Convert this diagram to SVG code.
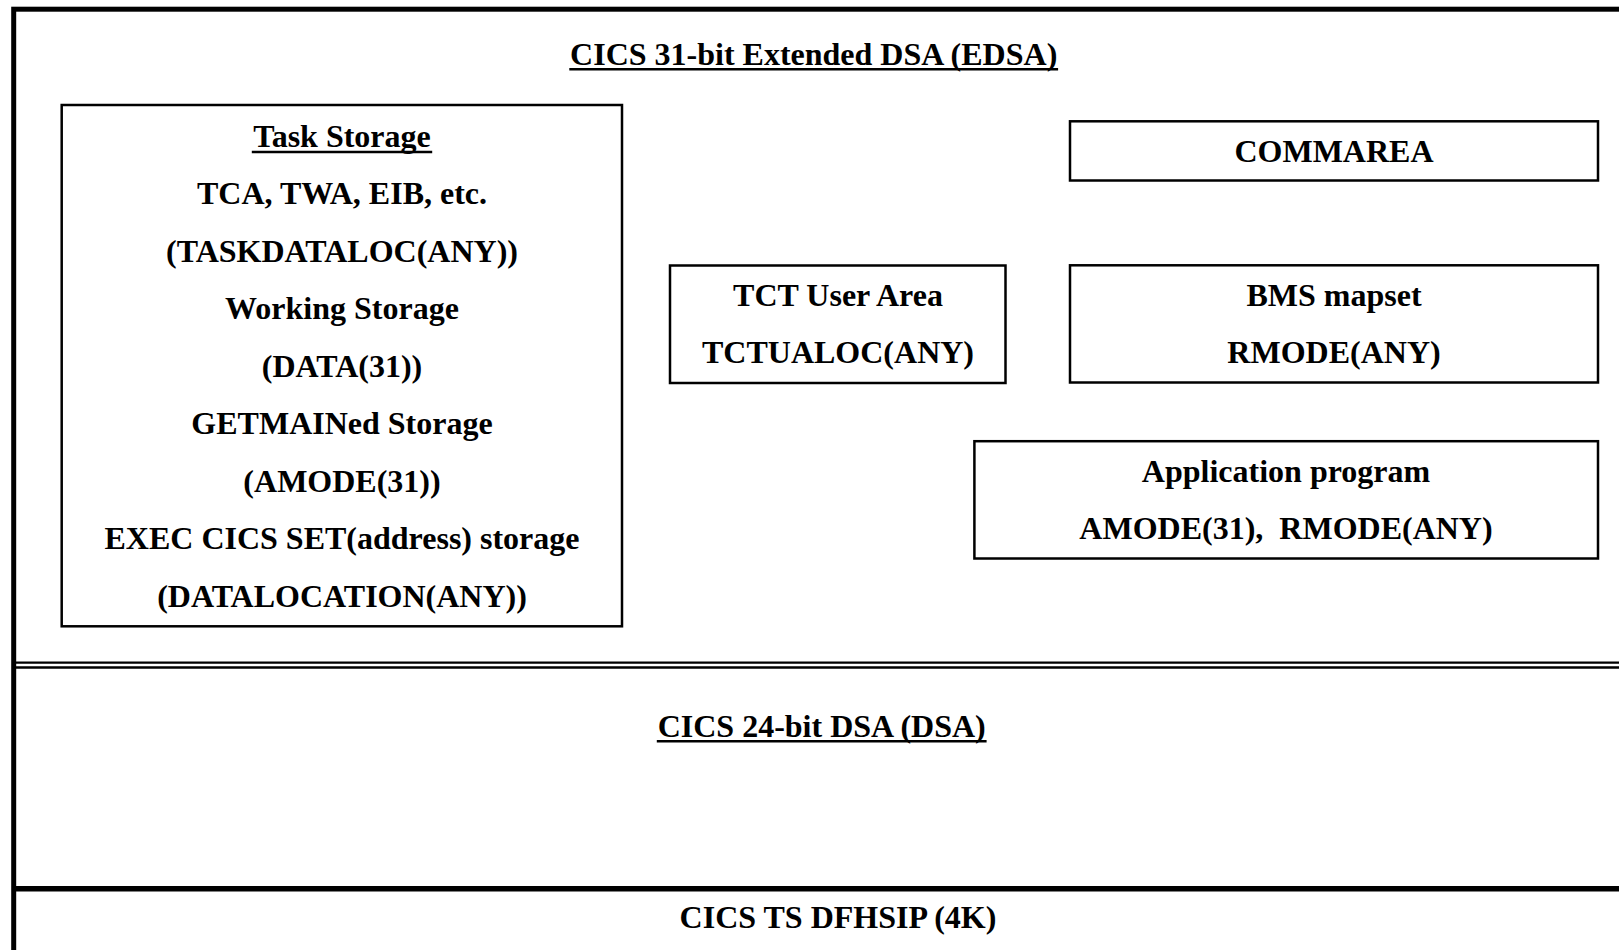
<svg xmlns="http://www.w3.org/2000/svg" width="1619" height="950" viewBox="0 0 1619 950">
<style>
text{font-family:"Liberation Serif","Times New Roman",serif;font-weight:bold;font-size:32px;fill:#000;text-anchor:middle}
.ul{stroke:#000;stroke-width:2.5}
.box{fill:#fff;stroke:#000;stroke-width:2.5}
.sep{stroke:#000;fill:none}
</style>
<rect width="1619" height="950" fill="#fff"/>
<g id="edsa">
<rect x="13.7" y="9.2" width="1640" height="980" fill="none" stroke="#000" stroke-width="5"/>
<text x="813.7" y="65">CICS 31-bit Extended DSA (EDSA)</text>
<line class="ul" x1="569.3" y1="69.2" x2="1058.1" y2="69.2"/>
</g>
<g id="task-storage">
<rect class="box" x="61.7" y="105" width="560.3" height="521.3"/>
<text x="342" y="146.7">Task Storage</text>
<line class="ul" x1="251.8" y1="152" x2="432.2" y2="152"/>
<text x="342" y="204.2">TCA, TWA, EIB, etc.</text>
<text x="342" y="261.7">(TASKDATALOC(ANY))</text>
<text x="342" y="319.2">Working Storage</text>
<text x="342" y="376.7">(DATA(31))</text>
<text x="342" y="434.2">GETMAINed Storage</text>
<text x="342" y="491.7">(AMODE(31))</text>
<text x="342" y="549.2">EXEC CICS SET(address) storage</text>
<text x="342" y="606.7">(DATALOCATION(ANY))</text>
</g>
<g id="commarea">
<rect class="box" x="1070" y="121.3" width="528" height="59.2"/>
<text x="1334" y="162.3">COMMAREA</text>
</g>
<g id="tct-user-area">
<rect class="box" x="670" y="265.5" width="335.5" height="117.5"/>
<text x="838" y="306">TCT User Area</text>
<text x="838" y="363.3">TCTUALOC(ANY)</text>
</g>
<g id="bms-mapset">
<rect class="box" x="1070" y="265.3" width="528" height="117.2"/>
<text x="1334" y="306">BMS mapset</text>
<text x="1334" y="363.3">RMODE(ANY)</text>
</g>
<g id="application-program">
<rect class="box" x="974.4" y="441.2" width="623.6" height="117.3"/>
<text x="1286" y="481.7">Application program</text>
<text x="1286" y="538.5">AMODE(31),&#160; RMODE(ANY)</text>
</g>
<g id="connectors">
<line class="sep" x1="16" y1="662.7" x2="1619" y2="662.7" stroke-width="2.2"/>
<line class="sep" x1="16" y1="667.5" x2="1619" y2="667.5" stroke-width="2.6"/>
<line class="sep" x1="16" y1="888.8" x2="1619" y2="888.8" stroke-width="5.5"/>
</g>
<g id="dsa">
<text x="821.7" y="736.7">CICS 24-bit DSA (DSA)</text>
<line class="ul" x1="656.8" y1="741.3" x2="986.6" y2="741.3"/>
</g>
<g id="dfhsip">
<text x="838" y="928.3">CICS TS DFHSIP (4K)</text>
</g>
</svg>
